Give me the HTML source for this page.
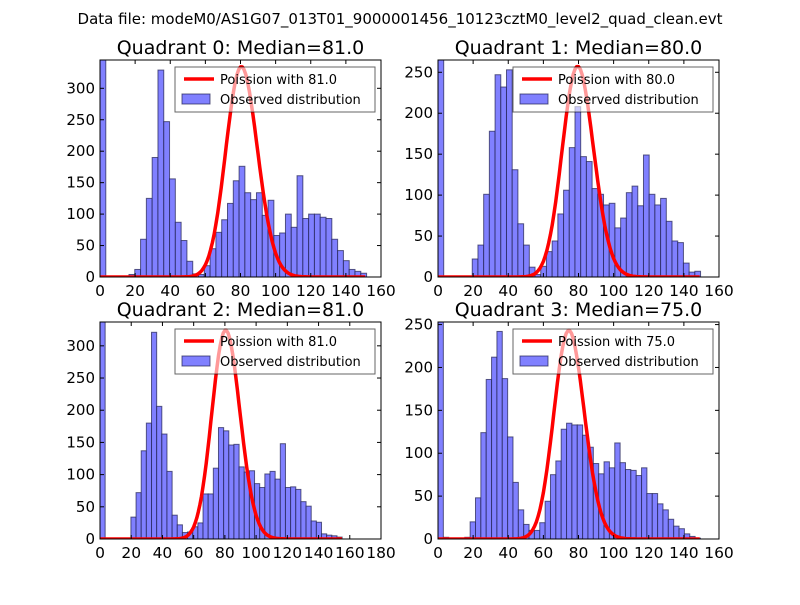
<!DOCTYPE html>
<html><head><meta charset="utf-8"><style>
body{margin:0;background:#fff}
svg text{font-family:"DejaVu Sans","Liberation Sans",sans-serif;fill:#000}
</style></head><body>
<svg id="fig" width="800" height="600" viewBox="0 0 800 600" xmlns="http://www.w3.org/2000/svg">
<rect width="800" height="600" fill="#fff"/>
<text x="400" y="24" text-anchor="middle" font-size="15">Data file: modeM0/AS1G07_013T01_9000001456_10123cztM0_level2_quad_clean.evt</text>
</svg>
<script>
const lambdas=[81.0,80.0,81.0,75.0];
const poissonPeaks=[334,257,324,243];
const binWidths=[3.3,3.25,3.3,3.05];
const q0Counts=[345,0,0,0,0,4,12,60,125,190,329,247,156,87,58,25,5,4,18,45,71,91,117,153,176,134,123,134,98,122,66,70,100,79,161,93,100,100,95,93,60,42,26,12,9,6];
const q1Counts=[265,0,0,0,0,0,22,39,101,178,247,232,253,131,65,39,12,3,13,31,44,77,106,158,208,147,141,108,101,88,90,60,72,103,111,87,149,101,88,96,68,44,42,17,6,7];
const q2Counts=[337,0,0,0,0,0,34,72,137,180,321,206,163,105,37,22,10,11,19,25,70,70,110,173,168,146,147,112,104,106,86,80,101,105,93,148,80,81,77,58,51,28,26,8,6,5,3];
const q3Counts=[253,2,0,0,0,2,20,48,124,186,212,242,187,119,66,34,17,10,10,19,44,75,91,128,135,133,133,121,107,88,76,90,83,112,89,81,80,74,83,53,53,41,34,23,15,12,6,3,1];
const xMaxes=[160,160,180,160];
const yMaxes=[345,265,337,253];
const xTickLabels=[["0","20","40","60","80","100","120","140","160"],["0","20","40","60","80","100","120","140","160"],["0","20","40","60","80","100","120","140","160","180"],["0","20","40","60","80","100","120","140","160"]];
const yTickLabels=[["0","50","100","150","200","250","300"],["0","50","100","150","200","250"],["0","50","100","150","200","250","300"],["0","50","100","150","200","250"]];
const allCounts=[q0Counts,q1Counts,q2Counts,q3Counts];
const medianLabels=["81.0","80.0","81.0","75.0"];

const NS="http://www.w3.org/2000/svg";
const svg=document.getElementById('fig');
function mk(tag,attrs,parent){const e=document.createElementNS(NS,tag);for(const k in attrs)e.setAttribute(k,attrs[k]);(parent||svg).appendChild(e);return e;}
const boxes=[[100,60],[438,60],[100,322],[438,322]];
const W=281,H=217;
function lgamma(n){let s=0;for(let i=2;i<=n;i++)s+=Math.log(i);return s;}
function pmf(k,l){return Math.exp(k*Math.log(l)-l-lgamma(k));}
for(let q=0;q<4;q++){
  const [x0,y0]=boxes[q];
  const g=mk('g',{});
  
  
  const xs=v=>x0+v/xMaxes[q]*W, ys=v=>y0+H-Math.min(v,yMaxes[q])/yMaxes[q]*H;
  const t=mk('text',{x:x0+W/2,y:y0-6,'text-anchor':'middle','font-size':'19'},g);
  t.textContent='Quadrant '+q+': Median='+medianLabels[q];
  
  
  const clipId='clip'+q;
  const cp=mk('clipPath',{id:clipId},g);mk('rect',{x:x0,y:y0,width:W,height:H},cp);
  const bars=mk('g',{'clip-path':'url(#'+clipId+')'},g);
  const cts=allCounts[q],bw=binWidths[q];
  cts.forEach((c,i)=>{if(c<=0)return;
    const r=mk('rect',{x:xs(i*bw),y:ys(c),width:xs((i+1)*bw)-xs(i*bw),height:y0+H-ys(c),fill:'#8080ff',stroke:'#202050','stroke-width':'1','stroke-opacity':'0.7'},bars);
    
    
  });
  const lam=lambdas[q],norm=poissonPeaks[q]/pmf(Math.round(lam),lam);
  const kEnd=Math.floor(cts.length*bw);
  let d='';for(let k=0;k<=kEnd;k++){d+=(k?'L':'M')+xs(k).toFixed(1)+','+ys(pmf(k,lam)*norm).toFixed(1);}
  const p=mk('path',{d:d,fill:'none',stroke:'#ff0000','stroke-width':'3.5','stroke-linejoin':'round'},bars);
  
  
  const lg=mk('g',{},g);
  
  
  const lx=x0+75,ly=y0+7;
  mk('rect',{x:lx,y:ly,width:200,height:45,fill:'#fff','fill-opacity':'0.6',stroke:'#000','stroke-opacity':'0.6','stroke-width':'1'},lg);
  mk('line',{x1:lx+9,y1:ly+12,x2:lx+39,y2:ly+12,stroke:'#ff0000','stroke-width':'3.5'},lg);
  const t1=mk('text',{x:lx+45,y:ly+17,'font-size':'13'},lg);t1.textContent='Poission with '+medianLabels[q];
  
  
  mk('rect',{x:lx+7,y:ly+27,width:28,height:10,fill:'#8080ff',stroke:'#202050','stroke-opacity':'0.7'},lg);
  const t2=mk('text',{x:lx+45,y:ly+37,'font-size':'13'},lg);t2.textContent='Observed distribution';
  
  
  mk('rect',{x:x0,y:y0,width:W,height:H,fill:'none',stroke:'#000','stroke-width':'1'},g);
  xTickLabels[q].forEach((lab,i)=>{const v=i*20,x=xs(v);
    mk('line',{x1:x,y1:y0+H,x2:x,y2:y0+H-4,stroke:'#000'},g);
    mk('line',{x1:x,y1:y0,x2:x,y2:y0+4,stroke:'#000'},g);
    const tt=mk('text',{x:x,y:y0+H+19,'text-anchor':'middle','font-size':'15.5'},g);tt.textContent=lab;
    
    
  });
  yTickLabels[q].forEach((lab,i)=>{const v=i*50,y=ys(v);
    mk('line',{x1:x0,y1:y,x2:x0+4,y2:y,stroke:'#000'},g);
    mk('line',{x1:x0+W,y1:y,x2:x0+W-4,y2:y,stroke:'#000'},g);
    const tt=mk('text',{x:x0-5,y:y+5,'text-anchor':'end','font-size':'15'},g);tt.textContent=lab;
    
    
  });
}
</script>
</body></html>
